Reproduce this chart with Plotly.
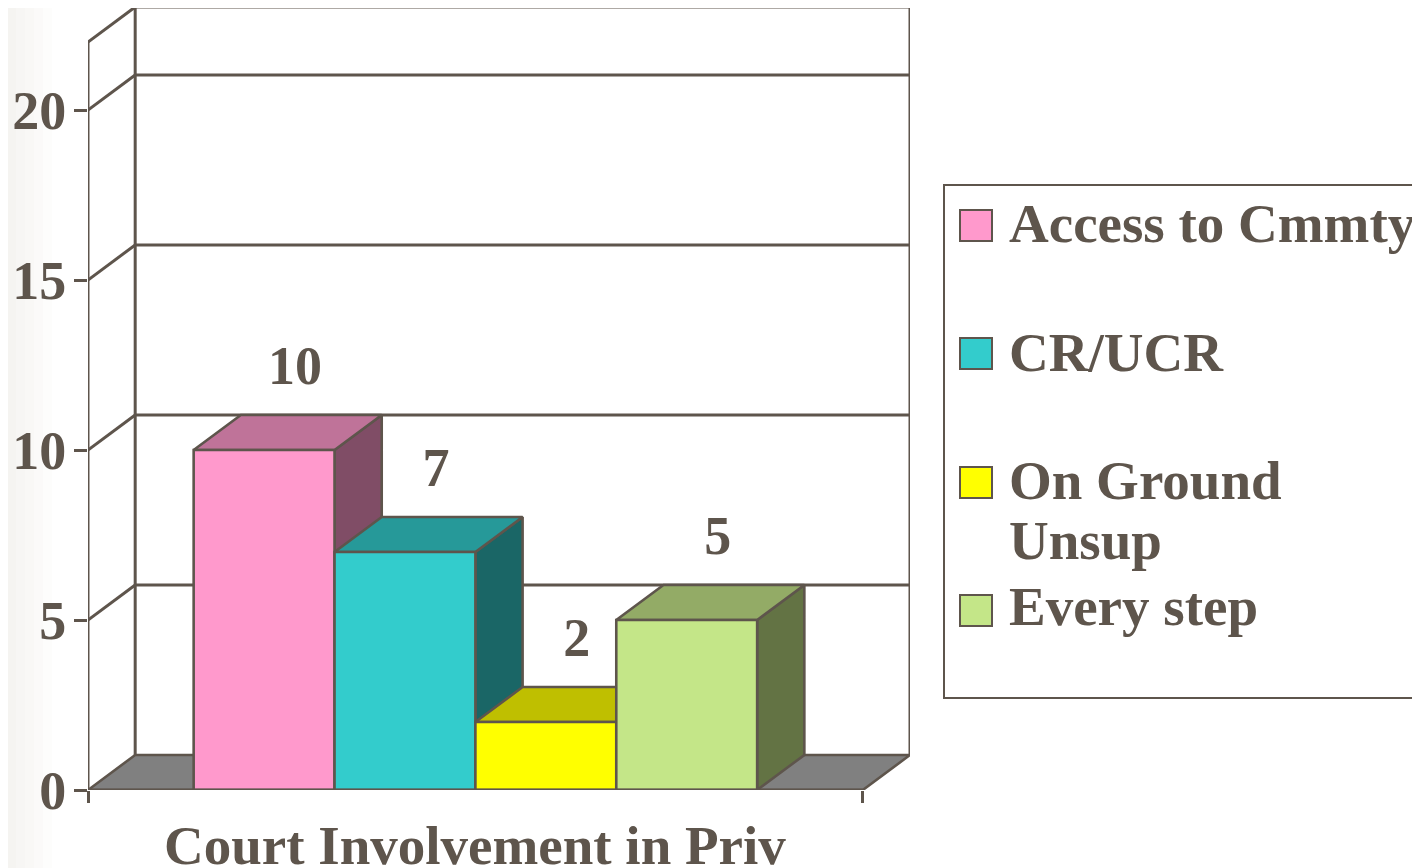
import plotly.graph_objects as go

# data
categories = ['Access to Cmmty', 'CR/UCR', 'On Ground Unsup', 'Every step']
legend_lines = [['Access to Cmmty'], ['CR/UCR'], ['On Ground', 'Unsup'], ['Every step']]
values = [10, 7, 2, 5]
y_ticks = [0, 5, 10, 15, 20]
x_title = 'Court Involvement in Priv'

# colours: front, top, side
FRONT = ['#FF99CC', '#33CCCC', '#FFFF00', '#C4E688']
TOP = ['#BF7399', '#269999', '#BFBF00', '#93AB66']
SIDE = ['#804D66', '#1A6666', '#808000', '#637344']
INK = '#5E554C'
FLOOR = '#808080'
FONT = 'Liberation Serif'

# geometry of the pseudo-3d box (data units)
X0, X1 = -0.75, 4.75      # front floor edge
DX, DY = 0.335, 1.03      # depth offset
WALL_TOP = 22

# the page body has an 8px margin, so the figure is a bit smaller
OFF = 8
W, H = 1420 - OFF, 868 - OFF
ML, MR, MT, MB = 88 - OFF, 510, 0, 868 - 790
PW, PH = W - ML - MR, H - MT - MB


def px(x):
    # screen pixel -> paper x
    return (x - OFF - ML) / PW


def py(y):
    # screen pixel -> paper y
    return (H - MB - (y - OFF)) / PH


def poly(xs, ys, fill, width=2.6):
    return go.Scatter(x=xs + [xs[0]], y=ys + [ys[0]], mode='lines', fill='toself',
                      fillcolor=fill, line=dict(color=INK, width=width),
                      hoverinfo='skip', showlegend=False, cliponaxis=False)


def line(xs, ys, width=3):
    return go.Scatter(x=xs, y=ys, mode='lines', line=dict(color=INK, width=width),
                      hoverinfo='skip', showlegend=False, cliponaxis=False)


fig = go.Figure()

# floor
fig.add_trace(poly([X0, X1, X1 + DX, X0 + DX], [0, 0, DY, DY], FLOOR))

# back wall grid lines and left wall diagonals
for t in y_ticks[1:]:
    fig.add_trace(line([X0 + DX, X1 + DX], [t + DY, t + DY]))
    fig.add_trace(line([X0, X0 + DX], [t, t + DY]))
fig.add_trace(line([X0 + DX, X1 + DX], [WALL_TOP + DY, WALL_TOP + DY]))
fig.add_trace(line([X0, X0 + DX], [WALL_TOP, WALL_TOP + DY]))
fig.add_trace(line([X0 + DX, X0 + DX], [DY, WALL_TOP + DY]))
fig.add_trace(line([X1 + DX, X1 + DX], [DY, WALL_TOP + DY]))
fig.add_trace(line([X0, X0], [0, WALL_TOP]))

# bars: side, top, front
for i, v in enumerate(values):
    a, b = i, i + 1
    fig.add_trace(poly([b, b + DX, b + DX, b], [0, DY, v + DY, v], SIDE[i]))
    fig.add_trace(poly([a, b, b + DX, a + DX], [v, v, v + DY, v + DY], TOP[i]))
    fig.add_trace(poly([a, b, b, a], [0, 0, v, v], FRONT[i]))

# front floor edge
fig.add_trace(line([X0, X1], [0, 0]))

# value labels
fig.add_trace(go.Scatter(
    x=[i + 0.5 + 0.22 for i in range(len(values))],
    y=[v + 2.35 for v in values],
    mode='text', text=[str(v) for v in values],
    textfont=dict(family=FONT, size=54, color=INK, weight='bold'),
    hoverinfo='skip', showlegend=False, cliponaxis=False))

# faint slide background at the left edge (lightest/widest first)
shapes = []
strip_cols = ['#FDFDFC', '#FBFAF9', '#F9F8F6', '#F7F6F4', '#F5F4F1']
for k, c in enumerate(strip_cols):
    shapes.append(dict(type='rect', xref='paper', yref='paper', layer='below',
                       x0=px(-10), x1=px(52 - 9 * k),
                       y0=-0.2, y1=1.1, line=dict(width=0), fillcolor=c))

# legend, drawn by hand
shapes.append(dict(type='rect', xref='paper', yref='paper',
                   x0=px(944), x1=px(1440), y0=py(698), y1=py(185),
                   line=dict(color=INK, width=2), fillcolor='white', layer='below'))
annotations = []
swatch_top = [210, 338, 467, 595]
line_mid = [[224], [352], [481, 540], [606]]
for i, lines in enumerate(legend_lines):
    shapes.append(dict(type='rect', xref='paper', yref='paper',
                       x0=px(960), x1=px(992), y0=py(swatch_top[i] + 31), y1=py(swatch_top[i]),
                       line=dict(color=INK, width=2), fillcolor=FRONT[i]))
    for txt, ym in zip(lines, line_mid[i]):
        annotations.append(dict(xref='paper', yref='paper', x=px(1007), y=py(ym),
                                xanchor='left', yanchor='middle', text=txt, showarrow=False,
                                font=dict(family=FONT, size=55, color=INK, weight='bold')))

annotations.append(dict(xref='x', yref='paper', x=(X0 + X1) / 2, y=py(846),
                        xanchor='center', yanchor='middle', text=x_title, showarrow=False,
                        font=dict(family=FONT, size=55, color=INK, weight='bold')))

fig.update_layout(
    width=W, height=H,
    margin=dict(l=ML, r=MR, t=MT, b=MB, pad=0),
    paper_bgcolor='white', plot_bgcolor='white',
    showlegend=False,
    shapes=shapes, annotations=annotations,
    xaxis=dict(range=[X0, X1 + DX], showgrid=False, zeroline=False, showline=False,
               tickvals=[X0, X1], ticks='outside', ticklen=12, tickwidth=3,
               tickcolor=INK, showticklabels=False, fixedrange=True, automargin=False),
    yaxis=dict(range=[0, (H - MB - MT) / 34.0], showgrid=False, zeroline=False, showline=False,
               tickvals=y_ticks, ticks='outside', ticklen=13, tickwidth=3,
               tickcolor=INK, ticklabelstandoff=-3, automargin=False,
               tickfont=dict(family=FONT, size=54, color=INK, weight='bold'),
               fixedrange=True),
)

fig.write_html('out.html')
